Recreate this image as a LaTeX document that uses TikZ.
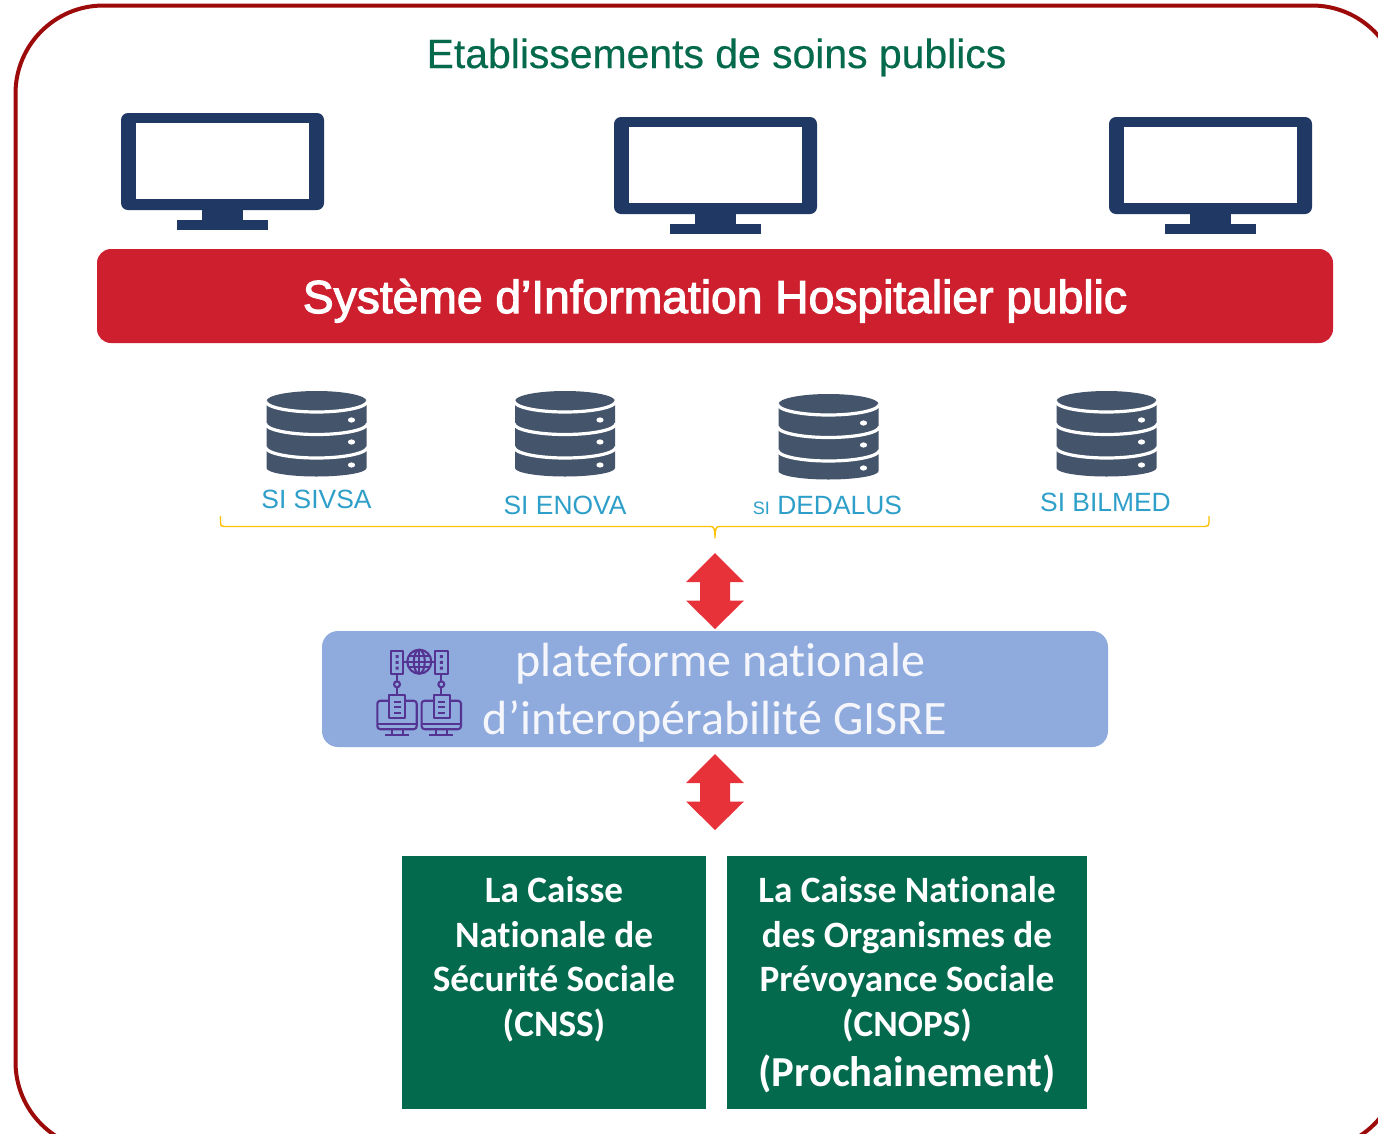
\documentclass[tikz,border=0pt]{standalone}
\usepackage{fontspec}
\setmainfont{Liberation Sans}
\newfontfamily\carlito[Ligatures=NoCommon]{Carlito}
\newfontfamily\heavysans[FakeBold=2.5]{Liberation Sans}
\newfontfamily\titlesans[FakeBold=0.4]{Liberation Sans}
\definecolor{framered}{HTML}{9C0A0A}
\definecolor{titlegreen}{HTML}{056A4B}
\definecolor{navy}{HTML}{1F3864}
\definecolor{barred}{HTML}{CE1F2E}
\definecolor{slate}{HTML}{44546A}
\definecolor{sicyan}{HTML}{2E9FC9}
\definecolor{braceyellow}{HTML}{FFC000}
\definecolor{arrowred}{HTML}{E8323A}
\definecolor{platblue}{HTML}{8FAADC}
\definecolor{plattext}{HTML}{F4F6FB}
\definecolor{boxgreen}{HTML}{046A4E}
\definecolor{iconpurple}{HTML}{553393}
\tikzset{
  x=1pt,y=-1pt,
  salabel/.style={text=sicyan,font=\fontsize{26.4}{30}\selectfont,inner sep=0pt,anchor=center},
  boxline/.style={text=white,font=\carlito\bfseries\fontsize{37.2}{40}\selectfont,inner sep=0pt,anchor=base},
  plat/.style={text=plattext,font=\carlito\fontsize{48}{50}\selectfont,inner sep=0pt,anchor=base},
  iconline/.style={draw=iconpurple,line width=2.1pt,line join=round},
  monitorpic/.pic={
    \fill[navy,rounded corners=7pt] (0,0) rectangle (203,97);
    \fill[white] (15,10) rectangle (188,86);
    \fill[navy] (81,97) rectangle (122,107);
    \fill[navy] (56,107) rectangle (147,117);
  },
  dbpic/.pic={
    \fill[slate] (0,10) arc[start angle=180,end angle=0,x radius=50,y radius=-10]
      -- (100,77) arc[start angle=0,end angle=180,x radius=50,y radius=8.5] -- cycle;
    \foreach \yy in {10,32.5,56}
      \draw[white,line width=3.2pt] (-1,\yy) arc[start angle=180,end angle=360,x radius=51,y radius=-11];
    \foreach \yy in {29,51,74}
      \fill[white] (85,\yy) ellipse[x radius=3.6,y radius=2.6];
  },
  arrowpic/.pic={
    \fill[arrowred] (0,0) -- (29,29) -- (15,29) -- (15,47.5) -- (29,47.5) -- (0,76)
      -- (-29,47.5) -- (-15,47.5) -- (-15,29) -- (-29,29) -- cycle;
  },
  iconscreen/.pic={
    \draw[iconline,rounded corners=3pt] (12,0) -- (0,0) -- (0,28.5) -- (39.4,28.5) -- (39.4,0) -- (28,0);
    \draw[iconline] (0,23.5) -- (39.4,23.5);
    \draw[iconline] (14.4,28.5) -- (14.4,34.3) (25.4,28.5) -- (25.4,34.3);
    \draw[iconline] (7.7,34.3) -- (31.7,34.3);
    \draw[iconline] (12,-5.7) rectangle (28,17.6);
    \draw[iconline] (16.7,1) -- (23.7,1) (16.7,6.6) -- (23.7,6.6) (16.7,12) -- (23.7,12);
    \draw[iconline] (19.7,-5.7) -- (19.7,-13.4);
    \draw[iconline] (19.7,-16.4) circle[radius=3];
    \draw[iconline] (19.7,-19.4) -- (19.7,-27);
    \draw[iconline] (13.4,-27) rectangle (26,-50);
    \fill[iconpurple] (18.2,-45.5) rectangle (21.2,-42.5) (18.2,-39.8) rectangle (21.2,-36.8) (18.2,-34) rectangle (21.2,-31);
  },
}
\begin{document}
\begin{tikzpicture}
\useasboundingbox (0,0) rectangle (1378,1133);
\fill[white] (0,0) rectangle (1378,1133);
\begin{scope}
\clip (0,0) rectangle (1378,1133);
\draw[framered,line width=4pt,rounded corners=88pt] (15.5,5.5) rectangle (1400,1150);
\end{scope}

\node[text=titlegreen,font=\titlesans\fontsize{40.9}{46}\selectfont,inner sep=0pt,anchor=base] (title) at (716.5,68) {Etablissements de soins publics};

\pic at (121,113) {monitorpic};
\pic at (614,117) {monitorpic};
\pic at (1109,117) {monitorpic};

\fill[barred,rounded corners=14pt] (97,249) rectangle (1333,343);
\node[inner sep=0pt,text=white,anchor=base,
  font=\heavysans\fontsize{46.2}{50}\selectfont] (si) at (715,313) {Système d’Information Hospitalier public};

\pic at (266.5,391) {dbpic};
\pic at (515,391) {dbpic};
\pic at (778.5,394) {dbpic};
\pic at (1056.5,391) {dbpic};

\node[salabel] (sivsa) at (316.5,499.5) {SI SIVSA};
\node[salabel] (enova) at (565,505.5) {SI ENOVA};
\node[salabel] (dedalus) at (827.5,505.5) {{\fontsize{18}{20}\selectfont SI} DEDALUS};
\node[salabel] (bilmed) at (1105.5,502.5) {SI BILMED};

\draw[braceyellow,line width=1.4pt,line join=round]
  (220.5,516) -- (220.5,522.5) .. controls (220.5,525.5) and (221,526.5) .. (224,526.5)
  -- (711,526.5) .. controls (714,526.5) and (715,529.5) .. (715,538)
  .. controls (715,529.5) and (716,526.5) .. (719,526.5)
  -- (1205,526.5) .. controls (1208,526.5) and (1209,525.5) .. (1209,522.5) -- (1209,516);

\pic at (715,553) {arrowpic};
\pic at (715,754) {arrowpic};

\fill[platblue,rounded corners=16pt] (322,631) rectangle (1108,747);
\node[plat] (plat1) at (720.5,676) {plateforme nationale};
\node[plat] (plat2) at (715,734) {d’interopérabilité GISRE};

\pic at (377.3,700.7) {iconscreen};
\pic at (421.6,700.7) {iconscreen};
\draw[iconline] (419.3,661.7) circle[radius=12];
\draw[iconline] (403.3,661.7) -- (435,661.7);
\draw[iconline] (419.3,661.7) ellipse[x radius=5.5,y radius=12];
\draw[iconline] (419.3,649.7) -- (419.3,673.7);
\draw[iconline] (409,656) -- (429.6,656) (409,667.4) -- (429.6,667.4);

\fill[boxgreen] (402,856) rectangle (706,1109);
\fill[boxgreen] (727,856) rectangle (1087,1109);
\node[boxline] (a1) at (554,902) {La Caisse};
\node[boxline] (a2) at (554,947) {Nationale de};
\node[boxline] (a3) at (554,991) {Sécurité Sociale};
\node[boxline] (a4) at (554,1036) {(CNSS)};
\node[boxline] (b1) at (907,902) {La Caisse Nationale};
\node[boxline] (b2) at (907,947) {des Organismes de};
\node[boxline] (b3) at (907,991) {Prévoyance Sociale};
\node[boxline] (b4) at (907,1036) {(CNOPS)};
\node[boxline,font=\carlito\bfseries\fontsize{42.7}{44}\selectfont] (b5) at (907,1086) {(Prochainement)};
\end{tikzpicture}
\end{document}
